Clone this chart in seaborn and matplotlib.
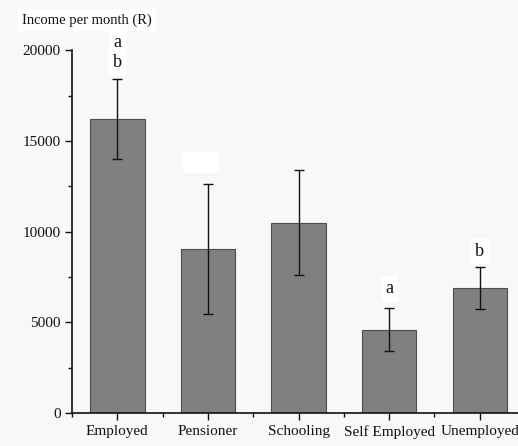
import matplotlib
matplotlib.use("Agg")
import matplotlib.pyplot as plt
from matplotlib.patches import Rectangle
from matplotlib.ticker import MultipleLocator
import seaborn as sns
import pandas as pd

categories = ["Employed", "Pensioner", "Schooling", "Self Employed", "Unemployed"]
mean_income = [16200, 9050, 10500, 4600, 6880]
income_err = [2200, 3600, 2880, 1170, 1160]
group_letters = [["a", "b"], [], [], ["a"], ["b"]]
letter_heights = [[20420, 19320], [], [], [6860], [8910]]
yticks = [0, 5000, 10000, 15000, 20000]

sns.set_theme(style="ticks")
plt.rcParams["font.family"] = ["Liberation Serif", "DejaVu Serif"]

bg = "#f8f8f8"
fig = plt.figure(figsize=(5.18, 4.46), dpi=100, facecolor=bg)
ax = fig.add_axes([0.139, 0.074, 0.866, 0.813], facecolor=bg)

df = pd.DataFrame({"group": categories, "income": mean_income})
sns.barplot(data=df, x="group", y="income", order=categories, color="#808080",
            saturation=1, width=0.6, edgecolor="#4d4d4d", linewidth=0.8,
            errorbar=None, ax=ax)

xs = list(range(len(categories)))
ax.errorbar(xs, mean_income, yerr=income_err, fmt="none", ecolor="#111111",
            elinewidth=1.0, capsize=3.5, capthick=1.0, clip_on=False, zorder=3)

for x, letters, heights in zip(xs, group_letters, letter_heights):
    for letter, h in zip(letters, heights):
        ax.text(x, h, letter, ha="center", va="center", fontsize=13,
                color="#111111", clip_on=False,
                bbox=dict(boxstyle="square,pad=0.25", fc="white", ec="none"))

# blank white label box above the Pensioner bar
ax.add_patch(Rectangle((0.73, 13240), 0.39, 1130, facecolor="white",
                       edgecolor="none", zorder=1, clip_on=False))

ax.set_xlim(-0.5, 4.45)
ax.set_ylim(0, 20000)
ax.set_yticks(yticks)
ax.set_yticklabels([str(v) for v in yticks])
ax.yaxis.set_minor_locator(MultipleLocator(2500))
ax.set_xticks(xs)
ax.set_xticks([x + 0.5 for x in xs[:-1]] + [-0.5], minor=True)
ax.set_xticklabels(categories)

ax.tick_params(axis="both", which="major", direction="out", length=5, width=1,
               labelsize=11, colors="#111111", pad=3)
ax.tick_params(axis="both", which="minor", direction="out", length=3, width=1,
               colors="#111111")
ax.tick_params(axis="x", which="major", pad=4)

for side in ["top", "right"]:
    ax.spines[side].set_visible(False)
for side in ["left", "bottom"]:
    ax.spines[side].set_color("#111111")
    ax.spines[side].set_linewidth(1.2)

ax.set_xlabel("")
ax.set_ylabel("")
fig.text(22 / 518, 1 - 20 / 446, "Income per month (R)", ha="left", va="center",
         fontsize=10.5, color="#111111",
         bbox=dict(boxstyle="square,pad=0.3", fc="white", ec="none"))

fig.savefig("out.png", dpi=100, facecolor=bg)
